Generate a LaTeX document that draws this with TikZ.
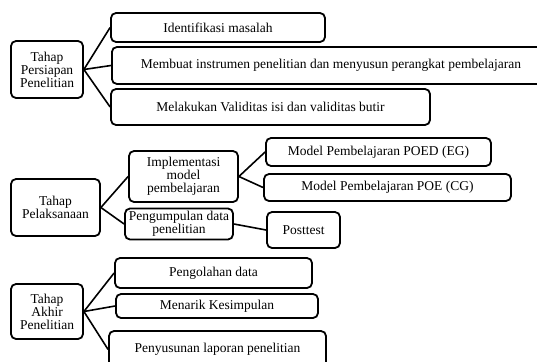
\documentclass[tikz,border=0pt]{standalone}
\usepackage{fontspec}
\setmainfont{Liberation Serif}
\begin{document}
\begin{tikzpicture}[x=1pt,y=-1pt,
  box/.style={draw, line width=1.8pt, rounded corners=5pt, inner sep=0pt,
    align=center, font=\fontsize{13.5}{13}\selectfont},
  link/.style={line width=1.6pt}]
\useasboundingbox (0,0) rectangle (537,361);
\clip (0,0) rectangle (537,361);
% group 1
\node[box, minimum width=72pt, minimum height=57pt] (A) at (47,69.5) {Tahap\\Persiapan\\Penelitian};
\node[box, minimum width=214pt, minimum height=29pt] (A1) at (218,27.5) {Identifikasi masalah};
\node[box, minimum width=449pt, minimum height=37pt, anchor=west] (A2) at (111,65.5) {\hspace*{29pt}Membuat instrumen penelitian dan menyusun perangkat pembelajaran\hspace*{44pt}};
\node[box, minimum width=319pt, minimum height=36pt] (A3) at (270.5,107) {Melakukan Validitas isi dan validitas butir};
\draw[link] (A.east) -- (A1.west);
\draw[link] (A.east) -- (A2.west);
\draw[link] (A.east) -- (A3.west);
% group 2
\node[box, minimum width=89pt, minimum height=57pt] (B) at (55.5,207.5) {Tahap\\Pelaksanaan};
\node[box, minimum width=109pt, minimum height=51pt] (B1) at (183.5,176.5) {Implementasi\\model\\pembelajaran};
\node[box, minimum width=108pt, minimum height=31pt, font=\fontsize{13.5}{12}\selectfont] (B2) at (179,224) {Pengumpulan data\\penelitian};
\node[box, minimum width=225pt, minimum height=28pt] (B11) at (378.5,152) {Model Pembelajaran POED (EG)};
\node[box, minimum width=247pt, minimum height=27pt] (B12) at (387.5,187.5) {Model Pembelajaran POE (CG)};
\node[box, minimum width=73pt, minimum height=36pt] (B21) at (303.5,230) {Posttest};
\draw[link] (B.east) -- (B1.west);
\draw[link] (B.east) -- (B2.west);
\draw[link] (B1.east) -- (B11.west);
\draw[link] (B1.east) -- (B12.west);
\draw[link] (B2.east) -- (B21.west);
% group 3
\node[box, minimum width=72pt, minimum height=55pt] (C) at (47,311.5) {Tahap\\Akhir\\Penelitian};
\node[box, minimum width=197pt, minimum height=30pt] (C1) at (213.5,273) {Pengolahan data};
\node[box, minimum width=202pt, minimum height=24pt] (C2) at (217,306) {Menarik Kesimpulan};
\node[box, minimum width=217pt, minimum height=37pt] (C3) at (217.5,349.5) {Penyusunan laporan penelitian};
\draw[link] (C.east) -- (C1.west);
\draw[link] (C.east) -- (C2.west);
\draw[link] (C.east) -- (C3.west);
\end{tikzpicture}
\end{document}
